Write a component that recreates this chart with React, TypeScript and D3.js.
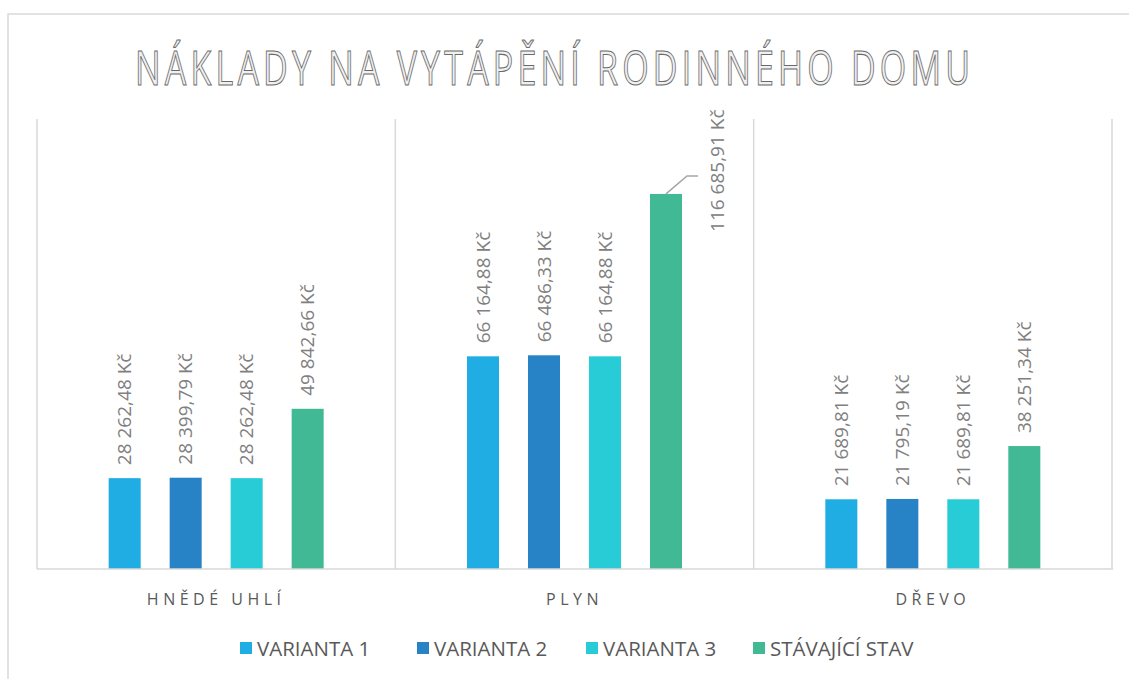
import React from "react";
import * as d3 from "d3";

const categories = ["HNĚDÉ UHLÍ", "PLYN", "DŘEVO"];
const seriesNames = ["VARIANTA 1", "VARIANTA 2", "VARIANTA 3", "STÁVAJÍCÍ STAV"];
const seriesColors = ["#1fade3", "#2783c6", "#27ccd6", "#42b995"];
const varianta1 = [28262.48, 66164.88, 21689.81];
const varianta2 = [28399.79, 66486.33, 21795.19];
const varianta3 = [28262.48, 66164.88, 21689.81];
const stavajici = [49842.66, 116685.91, 38251.34];
const seriesValues = [varianta1, varianta2, varianta3, stavajici];
const yMax = 140000;
const title = "NÁKLADY NA VYTÁPĚNÍ RODINNÉHO DOMU";

const fmt = (v: number) => {
  const [i, d] = v.toFixed(2).split(".");
  const ip = i.replace(/\B(?=(\d{3})+(?!\d))/g, " ");
  return `${ip},${d} Kč`;
};

const W = 1129;
const H = 679;
const plotL = 37, plotR = 1112, plotT = 119, plotB = 569;
const FONT = "'Open Sans', 'DejaVu Sans', sans-serif";

export default function App() {
  const x0 = d3.scaleBand<string>().domain(categories).range([plotL, plotR]).paddingInner(0).paddingOuter(0);
  const x1 = d3.scaleBand<string>().domain(seriesNames).range([0, x0.bandwidth()]).paddingInner(0.475).paddingOuter(1.175);
  const y = d3.scaleLinear().domain([0, yMax]).range([plotB, plotT]);
  const labelGap = 13;
  const approxLen = 118;

  const legendX = [240, 417, 586, 753];

  return (
    <svg width={W} height={H} style={{ position: "absolute", left: 0, top: 0, background: "#fff" }}>
      <rect x={8} y={14} width={1400} height={900} fill="#fff" stroke="#d9d9d9" strokeWidth={1.5} />
      <g transform="translate(135,85) scale(1,1.4)">
        <text x={0} y={0} fontFamily={FONT} fontSize={34} textLength={835} lengthAdjust="spacing"
          fill="#f0f0f0" stroke="#6a6a6a" strokeWidth={0.75}>{title}</text>
      </g>

      {/* category separators */}
      {[...categories.map((c) => x0(c)!), plotR].map((xx, i) => (
        <line key={i} x1={xx} x2={xx} y1={plotT} y2={plotB} stroke="#d9d9d9" strokeWidth={1.5} />
      ))}

      {categories.map((c, ci) =>
        seriesNames.map((s, si) => {
          const v = seriesValues[si][ci];
          const bx = x0(c)! + x1(s)!;
          const bw = x1.bandwidth();
          const top = y(v);
          const cx = bx + bw / 2;
          const outside = top - labelGap - approxLen < plotT - 5;
          return (
            <g key={c + s}>
              <rect x={bx} y={top} width={bw} height={plotB - top} fill={seriesColors[si]} />
              {outside ? (
                <g>
                  <polyline points={`${cx},${top} ${cx + 21},${top - 18} ${cx + 32},${top - 18}`}
                    fill="none" stroke="#a6a6a6" strokeWidth={1.5} />
                  <text transform={`translate(${bx + bw + 35},${top + 38}) rotate(-90)`} dy="0.35em"
                    fontFamily={FONT} fontSize={19} fill="#808080">{fmt(v)}</text>
                </g>
              ) : (
                <text transform={`translate(${cx},${top - labelGap}) rotate(-90)`} dy="0.35em"
                  fontFamily={FONT} fontSize={19} fill="#808080">{fmt(v)}</text>
              )}
            </g>
          );
        })
      )}

      <line x1={plotL} x2={plotR + 1} y1={plotB} y2={plotB} stroke="#d9d9d9" strokeWidth={1.5} />

      {categories.map((c) => (
        <text key={c} x={x0(c)! + x0.bandwidth() / 2} y={605} textAnchor="middle" fontFamily={FONT}
          fontSize={16} letterSpacing={4.5} fill="#595959">{c}</text>
      ))}

      {seriesNames.map((s, i) => (
        <g key={s}>
          <rect x={legendX[i]} y={642} width={12} height={12} fill={seriesColors[i]} />
          <text x={legendX[i] + 17} y={655.5} fontFamily={FONT} fontSize={20.5} fill="#595959">{s}</text>
        </g>
      ))}
    </svg>
  );
}
